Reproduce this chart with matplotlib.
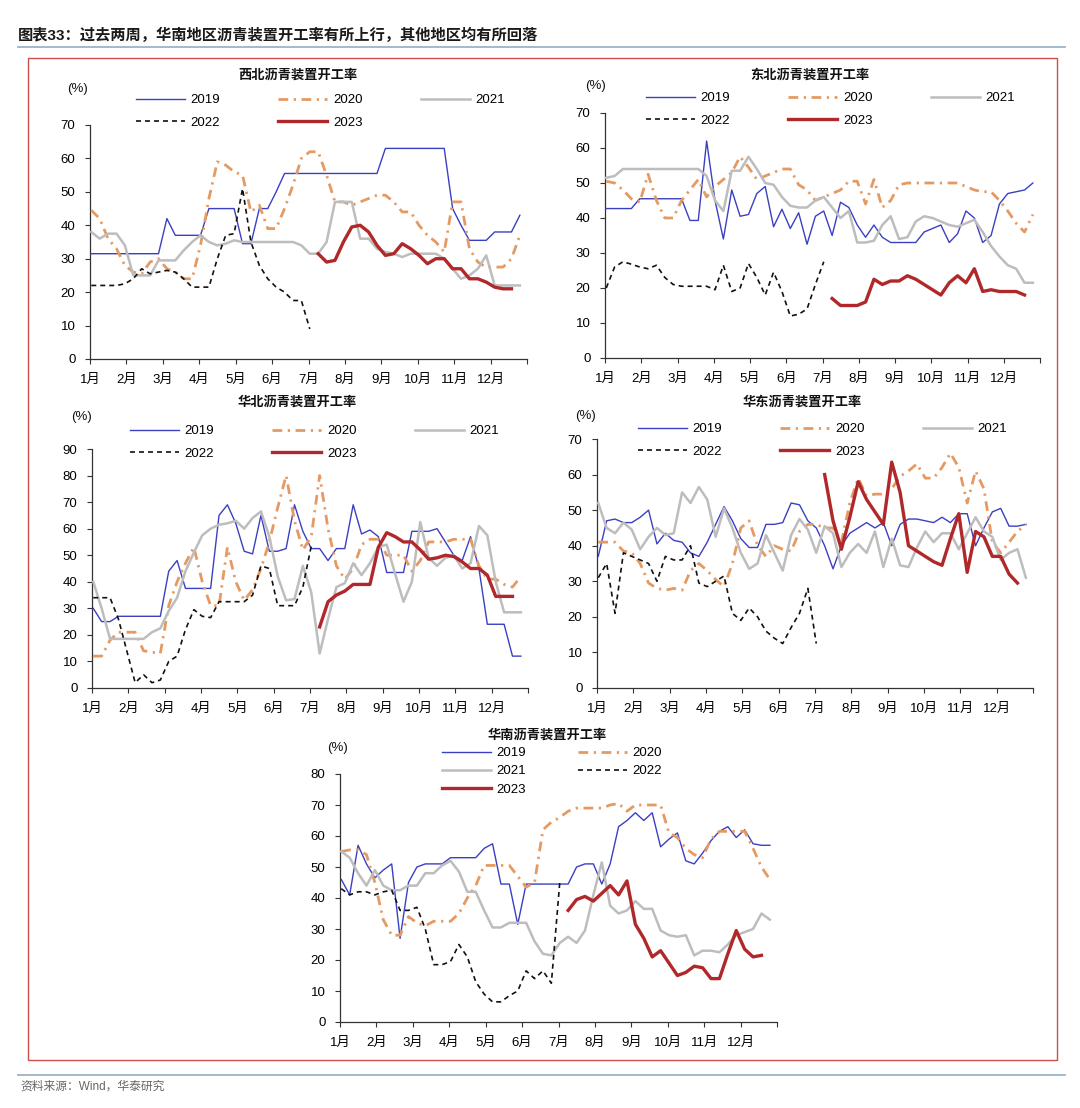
import matplotlib
matplotlib.use("Agg")
import matplotlib.pyplot as plt
import numpy as np
from matplotlib.lines import Line2D
from matplotlib.patches import Rectangle

plt.rcParams["font.family"] = ["Liberation Sans", "Noto Sans CJK SC"]
plt.rcParams["axes.unicode_minus"] = False

W, H = 1080, 1108

MONTHS = ["1月", "2月", "3月", "4月", "5月", "6月", "7月", "8月", "9月", "10月", "11月", "12月"]
YEARS = ["2019", "2020", "2021", "2022", "2023"]

# ---- weekly operating rates (%); None = no data ----
nw_2019 = [31.5, 31.5, 31.5, 31.5, 31.5, 31.5, 31.5, 31.5, 31.5, 42, 37, 37, 37, 37, 45, 45, 45, 45,
           34.5, 34.5, 45, 45, 50, 55.5, 55.5, 55.5, 55.5, 55.5, 55.5, 55.5, 55.5, 55.5, 55.5, 55.5,
           55.5, 63, 63, 63, 63, 63, 63, 63, 63, 45, 40, 35.5, 35.5, 35.5, 38, 38, 38, 43]
nw_2020 = [44.5, 42, 36, 33, 28, 26, 25.5, 29, 30, 27, 26, 24, 24, 34, 48, 59, 58, 56, 55, 44, 46, 39,
           39, 45, 52, 60, 62, 62, 55, 47, 47, 46, 47, 48, 49, 49, 47, 44, 44, 40, 37, 35, 32, 47, 47,
           33, 29, 27.5, 27.5, 27.5, 30, 37]
nw_2021 = [38, 36, 37.5, 37.5, 34, 25, 25, 25, 29.5, 29.5, 29.5, 32.5, 35, 37, 35, 34, 34.5, 35.5, 35,
           35, 35, 35, 35, 35, 35, 34, 31.5, 31.5, 35, 47, 47, 47, 36, 36, 33, 32, 31.5, 30.5, 31.5,
           31.5, 31.5, 31.5, 30, 27, 24, 25, 27, 31, 22, 22, 22, 22]
nw_2022 = [22, 22, 22, 22, 22.5, 24, 27, 25.5, 26, 26.5, 26, 24, 21.5, 21.5, 21.5, 30, 37, 37.5, 51,
           35, 28, 24, 21.5, 20, 17.5, 17.5, 9]
nw_2023 = [None] * 27 + [31.5, 29, 29.5, 35, 39.5, 40, 38, 34, 31, 31.5, 34.5, 33, 31, 28.5, 30, 30,
                         27, 27, 24, 24, 23, 21.5, 21, 21]

ne_2019 = [42.7, 42.7, 42.7, 42.7, 45.5, 45.5, 45.5, 45.5, 45.5, 45.5, 39.3, 39.3, 62, 45, 34, 48,
           40.5, 41, 47, 49, 37.5, 42.5, 37, 41.5, 32.5, 40.5, 42, 35, 44.5, 43, 38, 34.5, 38, 34.5,
           33, 33, 33, 33, 36, 37, 38, 33, 35.5, 42, 40, 33, 35, 44, 47, 47.5, 48, 50]
ne_2020 = [50.5, 50, 48, 45.5, 44.5, 52.5, 45, 40, 40, 45, 48, 51, 46, 49, 51, 53, 57.5, 54.5, 51, 52,
           53, 54, 54, 49.5, 48, 45, 46, 47, 48, 50.5, 50.5, 44, 51, 43, 45, 49.5, 50, 50, 50, 50, 50,
           50, 50, 49, 48, 47.5, 47.5, 45, 42, 38.5, 36, 41]
ne_2021 = [51.5, 52, 54, 54, 54, 54, 54, 54, 54, 54, 54, 54, 52, 45, 42, 53.5, 53.5, 57.5, 54, 50,
           49.5, 46, 43.5, 43, 43, 45, 46, 43, 40, 42, 33, 33, 33.5, 38, 40.5, 34, 34.5, 39, 40.5, 40,
           39, 38, 37.5, 38.5, 39.5, 36, 32, 29, 26.5, 25.5, 21.5, 21.5]
ne_2022 = [20, 26, 27.5, 26.8, 26, 25.5, 26.5, 23, 21, 20.5, 20.5, 20.5, 20.5, 19.5, 26.5, 19, 20, 27,
           23, 18, 24.5, 19, 12, 12.5, 14, 21, 27.5]
ne_2023 = [None] * 27 + [17, 15, 15, 15, 16, 22.5, 21, 22, 22, 23.5, 22.5, 21, 19.5, 18, 21.5, 23.5,
                         21.5, 25.5, 19, 19.5, 19, 19, 19, 18]

nc_2019 = [30, 25, 25, 27, 27, 27, 27, 27, 27, 44, 48, 37.5, 37.5, 37.5, 37.5, 65, 69, 62, 51.5, 50.5,
           65, 51.5, 51.5, 52.5, 69, 59, 52.5, 52.5, 48, 52.5, 52.5, 69, 58, 59.5, 57, 43.5, 43.5,
           43.5, 59, 59, 59, 60, 55, 50, 48, 57, 45, 24, 24, 24, 12, 12]
nc_2020 = [12, 12, 18, 21, 21, 21, 14, 13.5, 13, 31, 40, 47, 53, 40, 31, 31, 53, 40, 33, 37, 45, 55,
           68, 80, 63, 52, 57, 80, 60, 46, 41, 45, 54, 56, 56, 50, 50, 50, 44, 48, 55, 55, 55, 56, 56,
           56, 46, 41, 41, 39, 38, 42]
nc_2021 = [40, 30, 18.5, 18.5, 18.5, 18.5, 18.5, 21, 22.5, 29, 34, 44, 51, 57.5, 60, 61.5, 62, 63, 60,
           64, 66.5, 57, 42, 33, 33.5, 46, 36, 13, 26, 38, 39.5, 47, 42.5, 47, 53, 54, 43, 32.5, 40,
           62.5, 49, 46, 49, 50, 45, 47, 61, 57.5, 40, 28.5, 28.5, 28.5]
nc_2022 = [34, 34, 34, 26, 14, 2, 5, 2, 3, 10, 12, 22, 29.5, 27, 26.5, 32.5, 32.5, 32.5, 32.5, 35, 46,
           45, 31, 31, 31, 38, 53.5]
nc_2023 = [None] * 27 + [23, 32.5, 35, 36.5, 39, 39, 39, 53, 58.5, 57, 55, 55, 52, 48.5, 49, 50, 49.5,
                         47.5, 45, 45, 42.5, 34.5, 34.5, 34.5]

ec_2019 = [37, 47, 47.5, 46.5, 46.5, 48, 50, 40.5, 43.5, 41.5, 41, 38, 37, 41, 46, 51, 47, 42, 39.5,
           39.5, 46, 46, 46.5, 52, 51.5, 47, 45, 40, 33.5, 40, 43.5, 45, 46.5, 45, 46.5, 40, 46, 47.5,
           47.5, 47, 46.5, 48, 46.5, 49, 49, 40, 45, 49.5, 50.5, 45.5, 45.5, 46]
ec_2020 = [41, 41, 41, 38.5, 38, 35, 29.5, 28, 27.5, 28, 27.5, 33, 35, 33, 30.5, 28.5, 35, 45, 47, 40,
           37, 40, 39, 38.5, 44, 46, 46, 45, 45, 41, 52, 59, 54, 54.5, 54.5, 56, 59.5, 61, 63, 59, 59,
           62, 66, 62, 52, 61, 56, 41, 38, 41, 44, 46]
ec_2021 = [52, 45, 43.5, 46.5, 44.5, 39, 42.5, 45, 43, 43.5, 55, 52, 56.5, 53, 42.5, 50.5, 45, 38,
           33.5, 35, 43, 38, 33, 43, 47.5, 44.5, 38, 45.5, 43.5, 34, 38, 40.5, 38, 44, 34, 42, 34.5,
           34, 39.5, 44, 41, 43.5, 43.5, 39, 43.5, 48, 44, 42.5, 36, 38, 39, 31]
ec_2022 = [31, 35, 21, 38, 37, 36, 35, 30, 37, 36, 36, 40, 29.5, 28.5, 30, 31.5, 21, 19, 22.5, 20, 16,
           14, 12.5, 17, 21, 28, 12.5]
ec_2023 = [None] * 27 + [60, 47, 39, 48, 58, 53, 49.5, 46, 63.5, 55, 40, 38.5, 37, 35.5, 34.5, 42, 49,
                         32.5, 44, 42.5, 37, 37, 32, 29.5]

sc_2019 = [46, 41, 57, 51, 46.5, 49, 51, 27, 45, 50, 51, 51, 51, 53, 53, 53, 53, 56, 57.5, 44.5, 44.5,
           31.5, 44.5, 44.5, 44.5, 44.5, 44.5, 44.5, 50, 51, 51, 44.5, 51, 63, 65, 67.5, 65, 67.5,
           56.5, 59, 61, 52, 51, 54.5, 58.5, 61.5, 63, 59.5, 62, 57.5, 57, 57]
sc_2020 = [55, 55.5, 55.5, 54, 45, 33, 28, 28, 34, 32, 31, 32.5, 32.5, 32.5, 35, 40, 44, 50.5, 50.5,
           50.5, 50.5, 47, 43.5, 45, 62, 64.5, 66, 68, 69, 69, 69, 69, 70, 70.5, 68, 70, 70, 70, 70,
           61, 59.5, 56, 54, 53, 59, 61.5, 61.5, 61.5, 61.5, 56, 50, 46]
sc_2021 = [55, 53, 48, 44, 49, 44, 42.5, 42.5, 44, 44, 48, 48, 50.5, 52, 48.5, 42, 42, 36, 30.5, 30.5,
           32, 32, 32, 26, 22, 21.5, 25.5, 27.5, 25.5, 29.5, 41, 51.5, 37.5, 35, 36, 39, 36.5, 36.5,
           29.5, 28, 27.5, 28, 21.5, 23, 23, 22.5, 25, 28, 29, 30, 35, 33]
sc_2022 = [43, 41, 42, 42, 41, 42, 42.5, 36, 36, 37, 30, 18.5, 18.5, 19.5, 25, 21, 13, 9, 6.5, 6.5,
           8.5, 10, 16.5, 14, 16.5, 12.5, 45]
sc_2023 = [None] * 27 + [36, 39.5, 40.5, 39, 41.5, 44, 41, 45.5, 31.5, 27, 21, 23, 19, 15, 16, 18, 17.5,
                         14, 14, 22, 29.5, 23.5, 21, 21.5]

STYLE = {
    "2019": dict(color="#3B3FC2", lw=1.0, ls="-"),
    "2020": dict(color="#E49A62", lw=2.0, ls=(0, (3.5, 2.0, 0.8, 2.0))),
    "2021": dict(color="#BDBDBD", lw=1.8, ls="-"),
    "2022": dict(color="#111111", lw=1.2, ls=(0, (3.0, 2.4))),
    "2023": dict(color="#B0282A", lw=2.4, ls="-"),
}

PANELS = [
    dict(title="西北沥青装置开工率", data=[nw_2019, nw_2020, nw_2021, nw_2022, nw_2023], ymax=70,
         box=(90, 125, 527, 359), title_xy=(298, 75), pct_xy=(78, 89), leg_xy=(136, 94), ncol=3),
    dict(title="东北沥青装置开工率", data=[ne_2019, ne_2020, ne_2021, ne_2022, ne_2023], ymax=70,
         box=(605, 113, 1040, 358), title_xy=(810, 75), pct_xy=(595, 86), leg_xy=(646, 92), ncol=3),
    dict(title="华北沥青装置开工率", data=[nc_2019, nc_2020, nc_2021, nc_2022, nc_2023], ymax=90,
         box=(92, 449, 528, 688), title_xy=(297, 402), pct_xy=(82, 417), leg_xy=(130, 425), ncol=3),
    dict(title="华东沥青装置开工率", data=[ec_2019, ec_2020, ec_2021, ec_2022, ec_2023], ymax=70,
         box=(597, 439, 1033, 688), title_xy=(802, 402), pct_xy=(585, 416), leg_xy=(638, 423), ncol=3),
    dict(title="华南沥青装置开工率", data=[sc_2019, sc_2020, sc_2021, sc_2022, sc_2023], ymax=80,
         box=(340, 774, 777, 1022), title_xy=(547, 735), pct_xy=(338, 748), leg_xy=(442, 747), ncol=2),
]


def fx(px):
    return px / W


def fy(py):
    return 1 - py / H


def draw_panel(fig, spec):
    x0, y0, x1, y1 = spec["box"]
    ax = fig.add_axes([fx(x0), fy(y1), (x1 - x0) / W, (y1 - y0) / H])
    handles = {}
    for year, vals in zip(YEARS, spec["data"]):
        v = np.array(vals, dtype=float)
        x = (np.arange(len(v)) + 0.15) * 12 / 52
        st = STYLE[year]
        (ln,) = ax.plot(x, v, color=st["color"], lw=st["lw"], ls=st["ls"], label=year,
                        zorder=5 if year == "2023" else 3)
        handles[year] = ln
    ax.set_xlim(0, 12)
    ax.set_ylim(0, spec["ymax"])
    ax.set_yticks(np.arange(0, spec["ymax"] + 1, 10))
    ax.set_xticks(np.arange(13))
    ax.set_xticklabels(MONTHS + [""])
    for s in ("top", "right"):
        ax.spines[s].set_visible(False)
    for s in ("left", "bottom"):
        ax.spines[s].set_color("#333333")
        ax.spines[s].set_linewidth(0.9)
    ax.tick_params(axis="y", direction="out", length=3.5, width=0.8, pad=7, labelsize=9.5,
                   color="#333333")
    ax.tick_params(axis="x", direction="out", length=3.5, width=0.8, pad=7, labelsize=9.5,
                   color="#333333")

    if spec["ncol"] == 3:
        order = ["2019", "2022", "2020", "2023", "2021"]
        colsp, labsp = 4.4, 0.8
    else:
        order = ["2019", "2021", "2023", "2020", "2022"]
        colsp, labsp = 3.9, 0.45
    ax.legend([handles[k] for k in order], order, loc="upper left",
              bbox_to_anchor=(fx(spec["leg_xy"][0]), fy(spec["leg_xy"][1])),
              bbox_transform=fig.transFigure, ncol=spec["ncol"], frameon=False, fontsize=9.5,
              handlelength=3.7, handletextpad=0.45, columnspacing=colsp, labelspacing=labsp,
              borderpad=0, borderaxespad=0)

    fig.text(fx(spec["title_xy"][0]), fy(spec["title_xy"][1]), spec["title"], ha="center",
             va="center", fontsize=9.5, fontweight="bold", color="#111111")
    fig.text(fx(spec["pct_xy"][0]), fy(spec["pct_xy"][1]), "(%)", ha="center", va="center",
             fontsize=9.5, color="#111111")
    return ax


def main():
    fig = plt.figure(figsize=(W / 100, H / 100), dpi=100)

    fig.text(fx(18), fy(35), "图表33：过去两周，华南地区沥青装置开工率有所上行，其他地区均有所回落",
             ha="left", va="center", fontsize=11, fontweight="bold", color="#1A1A1A")
    fig.add_artist(Line2D([fx(18), fx(1065)], [fy(47), fy(47)], transform=fig.transFigure,
                          color="#9DB3C8", lw=1.3))
    fig.add_artist(Rectangle((fx(28), fy(1060)), (1057 - 28) / W, (1060 - 58) / H,
                             transform=fig.transFigure, fill=False, ec="#C9504C", lw=1.0))
    fig.add_artist(Line2D([fx(18), fx(1065)], [fy(1075), fy(1075)], transform=fig.transFigure,
                          color="#9DB3C8", lw=1.3))
    fig.text(fx(20), fy(1087), "资料来源：Wind，华泰研究", ha="left", va="center", fontsize=8.5,
             color="#666666")

    for spec in PANELS:
        draw_panel(fig, spec)

    fig.savefig("out.png", dpi=100)
    plt.close(fig)


if __name__ == "__main__":
    main()
